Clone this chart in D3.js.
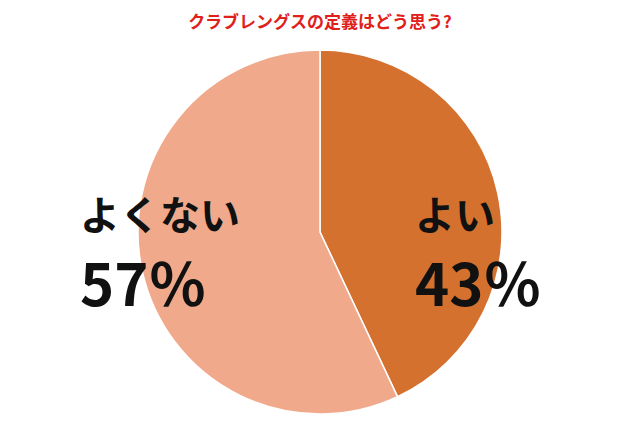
<!DOCTYPE html>
<html><head><meta charset="utf-8">
<script src="https://cdn.jsdelivr.net/npm/d3@7"></script>
<style>body{margin:0;background:#fff}</style></head>
<body><svg id="c" width="640" height="426"></svg>
<script>
const categories = ["よい", "よくない"];
const values = [43, 57];
const colors = ["#D4712E", "#F0A98A"];
const title = "クラブレングスの定義はどう思う?";

const svg = d3.select("#c");
svg.append("rect").attr("width",640).attr("height",426).attr("fill","#fff");
svg.append("text").attr("x",320).attr("y",28).attr("text-anchor","middle")
  .attr("fill","#E0201A").attr("font-family","Noto Sans CJK JP").attr("font-weight","bold")
  .attr("font-size",17).text(title);

const cx=320, cy=232, r=182;
const pie = d3.pie().sort(null)(values);
const arc = d3.arc().innerRadius(0).outerRadius(r);
const g = svg.append("g").attr("transform",`translate(${cx},${cy})`);
g.selectAll("path").data(pie).join("path").attr("d",arc)
  .attr("fill",(d,i)=>colors[i]).attr("stroke","#fff").attr("stroke-width",1.5);

const pos = [{x:415,y1:230,y2:306},{x:80,y1:230,y2:306}];
categories.forEach((c,i)=>{
  svg.append("text").attr("x",pos[i].x).attr("y",pos[i].y1)
    .attr("font-family","Noto Sans CJK JP").attr("font-weight","bold").attr("font-size",40)
    .attr("fill","#111").text(c);
  svg.append("text").attr("x",pos[i].x).attr("y",pos[i].y2)
    .attr("font-family","Noto Sans CJK JP").attr("font-weight","bold").attr("font-size",58)
    .attr("fill","#111").text(values[i]+"％");
});
</script></body></html>
